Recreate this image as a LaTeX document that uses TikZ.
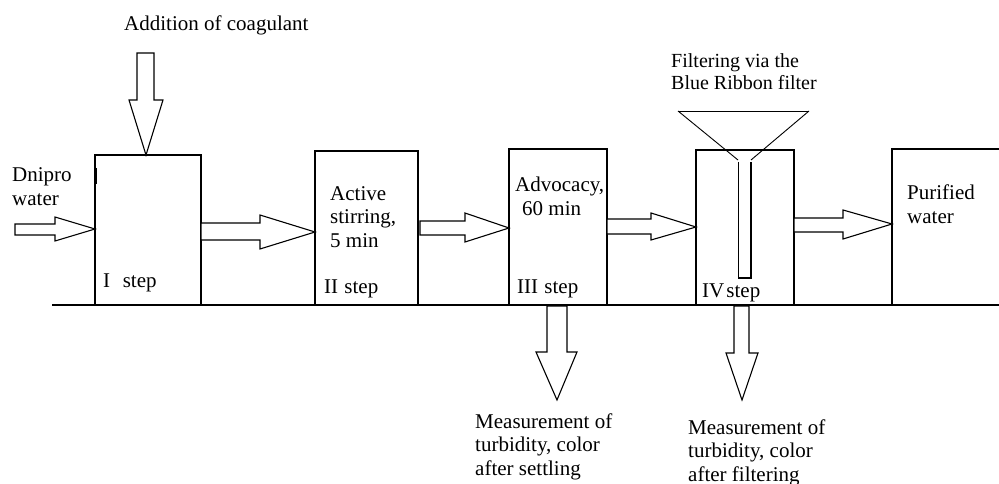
\documentclass[tikz,border=0pt]{standalone}
\usepackage{fontspec}
\setmainfont{Liberation Serif}
\begin{document}
\begin{tikzpicture}[x=1pt,y=-1pt,
  box/.style={draw,line width=1.1pt,inner sep=0pt,outer sep=0pt,anchor=north west},
  blk/.style={draw,line width=1.1pt,fill=white,line join=miter},
  lbl/.style={anchor=base west,inner sep=0pt,font=\fontsize{21}{23.5}\selectfont,align=left},
  thin/.style={line width=0.9pt}]
\useasboundingbox (0,0) rectangle (999,484);
\clip (0,0) rectangle (999,484);
% baseline
\coordinate (lineL) at (52,305);
\coordinate (lineR) at (999,305);
\draw[line width=1.1pt] (lineL) -- (lineR);
% boxes
\node[box,minimum width=106pt,minimum height=150pt] (s1) at (95,155) {};
\node[box,minimum width=103pt,minimum height=154pt] (s2) at (315,151) {};
\node[box,minimum width=98pt,minimum height=156pt] (s3) at (509,149) {};
\node[box,minimum width=98pt,minimum height=155pt] (s4) at (696,150) {};
\node[inner sep=0pt,outer sep=0pt,minimum width=120pt,minimum height=156pt,anchor=north west] (s5) at (892,149) {};
\draw[line width=1.1pt] (s5.north east) -- (s5.north west) -- (s5.south west);
\draw[line width=1.6pt] (96.5,168) -- (96.5,184);
% funnel and tube
\coordinate (fL) at (678,111);
\coordinate (fR) at (809,111);
\draw[thin] (fL) -- (fR);
\draw[thin] (fL) -- (738,160);
\draw[thin] (fR) -- (751,160);
\draw[line width=1.1pt] (738.5,162) -- (738.5,278) -- (751,278) -- (751,162);
% coagulant arrow
\draw[blk] (137,53) -- (154,53) -- (154,100) -- (163,100) -- (s1.north -| 146,0) -- (129,100) -- (137,100) -- cycle;
% inlet arrow
\coordinate (in0) at (15,224);
\draw[blk] (in0) -- (55,224) -- (55,217) -- (s1.west |- 0,229) -- (55,241) -- (55,235) -- (15,235) -- cycle;
% I -> II
\draw[blk] (s1.east |- 0,223) -- (260,223) -- (260,215) -- (s2.west |- 0,232) -- (260,249) -- (260,240) -- (s1.east |- 0,240) -- cycle;
% II -> III
\draw[blk] (420,221) -- (465,221) -- (465,213) -- (s3.west |- 0,228) -- (465,242) -- (465,235) -- (420,235) -- cycle;
% III -> IV
\draw[blk] (s3.east |- 0,219) -- (651,219) -- (651,213) -- (s4.west |- 0,227) -- (651,240) -- (651,234) -- (s3.east |- 0,234) -- cycle;
% IV -> purified
\draw[blk] (s4.east |- 0,218) -- (843,218) -- (843,210) -- (s5.west |- 0,224) -- (843,239) -- (843,232) -- (s4.east |- 0,232) -- cycle;
% down arrows
\draw[blk] (547,306) -- (547,352) -- (536,352) -- (557,400) -- (577,352) -- (567,352) -- (567,306) -- cycle;
\draw[blk] (734,306) -- (734,353) -- (726,353) -- (742,400) -- (758,353) -- (749,353) -- (749,306) -- cycle;
% labels (base anchor = baseline of last line)
\node[lbl] (tcoag) at (124,31) {Addition of coagulant};
\node[lbl] (tdn) at (12,205) {Dnipro\\water};
\node[lbl] (t1) at (103,287) {I\hspace{0.6em}step};
\node[lbl] (t2a) at (330,247) {Active\\stirring,\\5 min};
\node[lbl] (t2) at (324,293) {II\hspace{0.3em}step};
\node[lbl] (t3a) at (515,215) {Advocacy,\\\hspace*{7pt}60 min};
\node[lbl] (t3) at (517,293) {III\hspace{0.3em}step};
\node[lbl] (t4) at (702,297) {IV\hspace{0.1em}step};
\node[lbl,font=\fontsize{20}{22}\selectfont] (tfilt) at (671,90) {Filtering via the\\Blue Ribbon filter};
\node[lbl] (t5) at (907,223) {Purified\\water};
\node[lbl] (tm1) at (475,475) {Measurement of\\turbidity, color\\after settling};
\node[lbl] (tm2) at (688,481) {Measurement of\\turbidity, color\\after filtering};
\end{tikzpicture}
\end{document}
